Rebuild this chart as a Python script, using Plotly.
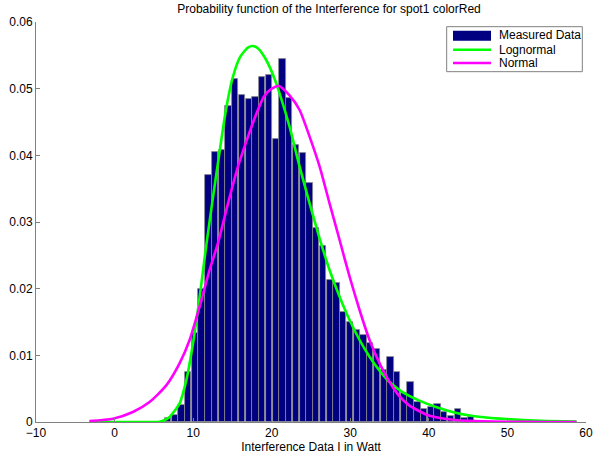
import plotly.graph_objects as go

# ---- data ----
bin_centers = [6.79, 7.65, 8.51, 9.36, 10.22, 11.08, 11.94, 12.80, 13.65, 14.51,
               15.37, 16.23, 17.09, 17.94, 18.80, 19.66, 20.52, 21.38, 22.23, 23.09,
               23.95, 24.81, 25.67, 26.52, 27.38, 28.24, 29.10, 29.96, 30.81, 31.67,
               32.53, 33.39, 34.25, 35.10, 35.96, 36.82, 37.68, 38.54, 39.39, 40.25,
               41.11, 41.97, 42.83, 43.68, 44.54, 45.40]
measured = [0.00055, 0.0010, 0.0026, 0.0075, 0.0133, 0.0200, 0.0371, 0.0405, 0.0408, 0.0474,
            0.0514, 0.0490, 0.0484, 0.0488, 0.0518, 0.0520, 0.0424, 0.0544, 0.0486, 0.0415,
            0.0403, 0.0359, 0.0291, 0.0264, 0.0213, 0.0208, 0.0165, 0.0150, 0.0138, 0.0130,
            0.0118, 0.0109, 0.0078, 0.0097, 0.0075, 0.0044, 0.0060, 0.0030, 0.0019, 0.0023,
            0.0027, 0.0015, 0.0009, 0.0019, 0.0006, 0.0007]

logn_x = [-3.2, 0.0, 3.0, 5.0, 5.7, 6.4, 7.0, 7.6, 8.27, 9.12, 9.97, 10.82, 11.67, 12.5,
          13.3, 14.13, 15.0, 16.0, 17.0, 17.6, 18.3, 19.3, 20.36, 21.0, 22.27, 23.55, 24.82,
          26.1, 27.36, 28.64, 29.91, 31.18, 32.45, 33.73, 35.0, 36.5, 38.8, 41.0, 43.0, 45.0,
          47.0, 49.0, 52.0, 55.0, 58.8]
logn_y = [0.0, 0.0, 0.0, 0.0, 0.00005, 0.0003, 0.00075, 0.0016, 0.00276, 0.0062, 0.0117,
          0.0187, 0.0265, 0.0335, 0.0400, 0.0465, 0.0515, 0.0548, 0.0562, 0.0564, 0.0560,
          0.0543, 0.0515, 0.0493, 0.0443, 0.0383, 0.0328, 0.0275, 0.0228, 0.0188, 0.0153,
          0.0123, 0.0098, 0.0077, 0.0060, 0.0046, 0.0032, 0.0022, 0.0015, 0.0010, 0.0007,
          0.0005, 0.0003, 0.00015, 0.00005]

norm_x = [-3.2, -0.2, 2.33, 4.45, 6.58, 8.27, 9.55, 10.82, 12.09, 13.15, 14.44, 15.7,
          16.98, 17.8, 19.0, 20.0, 20.9, 22.27, 23.55, 24.82, 26.1, 27.36, 28.64, 29.91,
          31.18, 32.45, 33.73, 35.0, 36.3, 37.5, 39.7, 42.0, 45.0, 50.0, 55.0, 58.8]
norm_y = [0.00015, 0.0005, 0.0015, 0.0030, 0.0055, 0.0088, 0.0123, 0.0173, 0.0228, 0.0268,
          0.0328, 0.0383, 0.0428, 0.0455, 0.0488, 0.0500, 0.0504, 0.0490, 0.0468, 0.0428,
          0.0383, 0.0328, 0.0273, 0.0218, 0.0168, 0.0123, 0.0088, 0.0060, 0.0038, 0.0025,
          0.0011, 0.0005, 0.00018, 0.00004, 0.00001, 0.0]

legend_labels = ["Measured Data", "Lognormal", "Normal"]
x_ticks = [-10, 0, 10, 20, 30, 40, 50, 60]
y_ticks = [0, 0.01, 0.02, 0.03, 0.04, 0.05, 0.06]
y_tick_text = ["0", "0.01", "0.02", "0.03", "0.04", "0.05", "0.06"]

NAVY = "#000080"
GREEN = "#00FF00"
MAGENTA = "#FF00FF"
AXIS = "#808080"
FONT = "Liberation Sans, Arial, sans-serif"

fig = go.Figure()
fig.add_trace(go.Bar(x=bin_centers, y=measured, width=0.8, name=legend_labels[0],
                     marker=dict(color=NAVY, line=dict(color="#8a8a8a", width=0.8)),
                     showlegend=False))
fig.add_trace(go.Scatter(x=logn_x, y=logn_y, mode="lines", name=legend_labels[1],
                         line=dict(color=GREEN, width=2.6, shape="spline", smoothing=0.6),
                         showlegend=False))
fig.add_trace(go.Scatter(x=norm_x, y=norm_y, mode="lines", name=legend_labels[2],
                         line=dict(color=MAGENTA, width=2.6, shape="spline", smoothing=0.6),
                         showlegend=False))

# custom MATLAB-style legend (paper coordinates)
shapes = [
    dict(type="rect", xref="paper", yref="paper", x0=0.7467, x1=0.9933, y0=0.8758, y1=0.9883,
         line=dict(color=AXIS, width=1), fillcolor="white", layer="above"),
    dict(type="rect", xref="paper", yref="paper", x0=0.7582, x1=0.8273, y0=0.9533, y1=0.9783,
         line=dict(width=0), fillcolor=NAVY, layer="above"),
    dict(type="line", xref="paper", yref="paper", x0=0.7582, x1=0.8273, y0=0.9308, y1=0.9308,
         line=dict(color=GREEN, width=2.4), layer="above"),
    dict(type="line", xref="paper", yref="paper", x0=0.7582, x1=0.8273, y0=0.8975, y1=0.8975,
         line=dict(color=MAGENTA, width=2.4), layer="above"),
]
annotations = []
for lbl, yy in zip(legend_labels, [0.9670, 0.9308, 0.8975]):
    annotations.append(dict(xref="paper", yref="paper", x=0.8376, y=yy, text=lbl,
                            showarrow=False, xanchor="left", yanchor="middle",
                            font=dict(family=FONT, size=12, color="black")))

fig.update_layout(
    width=593, height=457,
    margin=dict(l=36, r=7, t=22, b=35),
    paper_bgcolor="white", plot_bgcolor="white",
    font=dict(family=FONT, size=12, color="black"),
    title=dict(text="Probability function of the Interference for spot1 colorRed",
               x=(36 + 293) / 593, xref="container", xanchor="center",
               y=1 - 8.5 / 457, yref="container", yanchor="middle",
               font=dict(family=FONT, size=12, color="black")),
    bargap=0,
    shapes=shapes,
    annotations=annotations,
    xaxis=dict(range=[-10, 60], tickvals=x_ticks, showline=True, linecolor=AXIS, linewidth=1,
               ticks="inside", ticklen=4, tickcolor=AXIS, showgrid=False, zeroline=False,
               mirror=False,
               title=dict(text="Interference Data I in Watt", standoff=2,
                          font=dict(family=FONT, size=12)),
               automargin=False),
    yaxis=dict(range=[0, 0.06], tickvals=y_ticks, ticktext=y_tick_text, showline=True,
               linecolor=AXIS, linewidth=1, ticks="inside", ticklen=4, tickcolor=AXIS,
               showgrid=False, zeroline=False, mirror=False, automargin=False),
)

fig.write_html("out.html", config={"displayModeBar": False},
               post_script="document.body.style.margin='0';document.body.style.overflow='hidden';")
